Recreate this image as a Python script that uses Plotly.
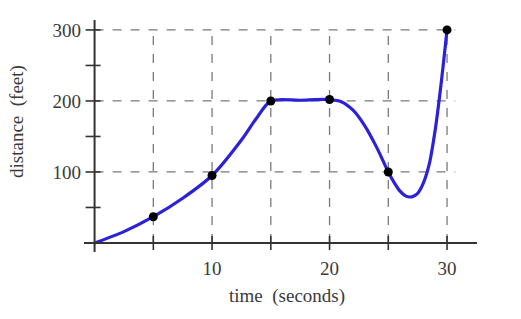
import plotly.graph_objects as go

# curve
curve_t = [0, 2.5, 5, 7.5, 10, 12.5, 13.75, 15, 17.5, 20, 21, 22, 23, 24, 25, 25.5, 26, 26.5, 27, 27.5, 28, 28.5, 29, 29.5, 30]
curve_d = [0, 16, 37, 63, 95, 145, 175, 200, 201, 202, 199, 187, 165, 135, 100, 85, 73, 66, 65, 70, 85, 112, 160, 225, 300]

# marked points
pt_t = [5, 10, 15, 20, 25, 30]
pt_d = [37, 95, 200, 202, 100, 300]

x_ticks = [5, 10, 15, 20, 25, 30]
x_labels = [10, 20, 30]
y_ticks = [50, 100, 150, 200, 250, 300]
y_grid = [100, 200, 300]
y_labels = [100, 200, 300]

FONT = "Liberation Serif"
GRID = "#7a7a7a"
AX = "#333333"
TXT = "#3a3a3a"

fig = go.Figure()
fig.add_trace(go.Scatter(x=curve_t, y=curve_d, mode="lines",
                         line=dict(color="#2b22d8", width=3.2, shape="spline", smoothing=0.8),
                         hoverinfo="skip", showlegend=False))
fig.add_trace(go.Scatter(x=pt_t, y=pt_d, mode="markers",
                         marker=dict(color="black", size=9),
                         showlegend=False))

shapes = []
# dashed grid
for v in x_ticks:
    shapes.append(dict(type="line", xref="x", yref="y", x0=v, x1=v, y0=0, y1=304,
                       line=dict(color=GRID, width=1.3, dash="dash"), layer="below"))
for v in y_grid:
    shapes.append(dict(type="line", xref="x", yref="y", x0=0, x1=30.7, y0=v, y1=v,
                       line=dict(color=GRID, width=1.3, dash="dash"), layer="below"))
# axes lines
shapes.append(dict(type="line", xref="paper", yref="y", x0=0, x1=1, y0=0, y1=0,
                   line=dict(color=AX, width=2)))
shapes.append(dict(type="line", xref="x", yref="paper", x0=0, x1=0, y0=0, y1=1,
                   line=dict(color=AX, width=2)))
# crossing tick marks
for v in x_ticks:
    shapes.append(dict(type="line", xref="x", yref="y", x0=v, x1=v,
                       ysizemode="pixel", yanchor=0, y0=-7, y1=7,
                       line=dict(color=AX, width=1.6)))
for v in y_ticks:
    shapes.append(dict(type="line", xref="x", yref="y", y0=v, y1=v,
                       xsizemode="pixel", xanchor=0, x0=-9, x1=6,
                       line=dict(color=AX, width=1.6)))

fig.update_layout(
    width=521, height=319,
    margin=dict(l=84, r=44, t=20, b=67),
    paper_bgcolor="white", plot_bgcolor="white",
    font=dict(family=FONT, size=19, color=TXT),
    shapes=shapes,
    xaxis=dict(range=[-0.9, 32.55], showgrid=False, zeroline=False, showline=False,
               tickvals=x_labels, ticks="", ticklabelstandoff=3, fixedrange=True,
               tickfont=dict(family=FONT, size=19, color=TXT)),
    yaxis=dict(range=[-12.7, 314], showgrid=False, zeroline=False, showline=False,
               tickvals=y_labels, ticks="", ticklabelstandoff=2, fixedrange=True,
               tickfont=dict(family=FONT, size=19, color=TXT)),
    annotations=[
        dict(text="time  (seconds)", xref="paper", yref="paper", x=(287-84)/(477-84),
             y=-(296-252)/232, xanchor="center", yanchor="middle", showarrow=False,
             font=dict(family=FONT, size=19, color=TXT)),
        dict(text="distance  (feet)", xref="paper", yref="paper", x=-(84-17)/393,
             y=(252-122)/232, xanchor="center", yanchor="middle", showarrow=False,
             textangle=-90, font=dict(family=FONT, size=19, color=TXT)),
    ],
)

fig.write_html("out.html")
